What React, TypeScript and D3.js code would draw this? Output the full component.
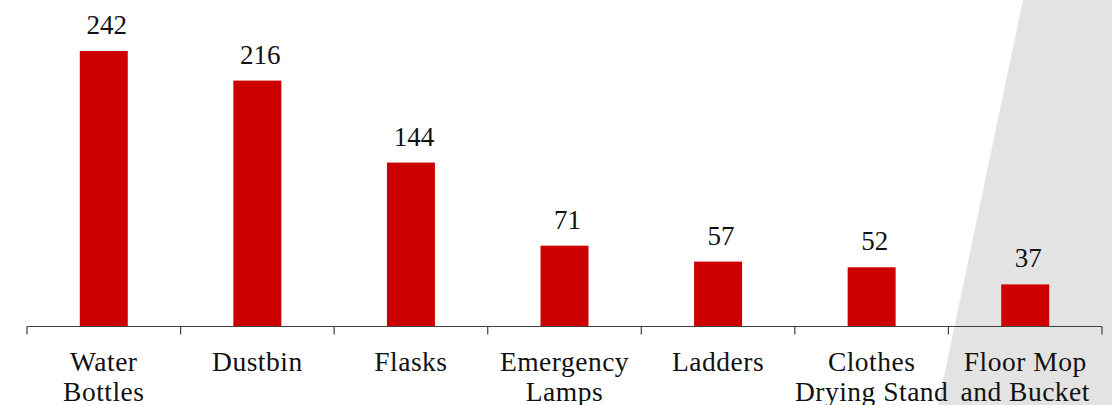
import React from "react";
import * as d3 from "d3";

const categories: string[][] = [
  ["Water", "Bottles"],
  ["Dustbin"],
  ["Flasks"],
  ["Emergency", "Lamps"],
  ["Ladders"],
  ["Clothes", "Drying Stand"],
  ["Floor Mop", "and Bucket"],
];
const values: number[] = [242, 216, 144, 71, 57, 52, 37];

const W = 1112;
const H = 405;
const FONT = "'Liberation Serif', 'Times New Roman', serif";

export default function App() {
  const keys = categories.map((c) => c.join(" "));
  const x = d3.scaleBand<string>().domain(keys).range([27, 1102]).padding(0);
  const y = d3.scaleLinear().domain([0, 280]).range([326.5, 7.75]);
  const barW = x.bandwidth() * 0.3125;
  const boundaries = keys.map((k) => x(k) as number).concat([x.range()[1]]);

  return (
    <svg
      width={W}
      height={H}
      style={{ position: "absolute", left: 0, top: 0, background: "#fff" }}
    >
      <polygon points={`1023,0 ${W},0 ${W},${H} 938,${H}`} fill="#e3e3e3" />
      {keys.map((k, i) => {
        const cx = (x(k) as number) + x.bandwidth() / 2;
        return (
          <g key={k}>
            <rect
              x={cx - barW / 2}
              y={y(values[i])}
              width={barW}
              height={y(0) - y(values[i])}
              fill="#cc0000"
            />
            <text
              x={cx + 3}
              y={y(values[i]) - 17}
              textAnchor="middle"
              fontFamily={FONT}
              fontSize={27}
              fill="#111"
            >
              {values[i]}
            </text>
            {categories[i].map((line, j) => (
              <text
                key={j}
                x={cx}
                y={370.5 + j * 30}
                textAnchor="middle"
                fontFamily={FONT}
                fontSize={27.5}
                letterSpacing={0.5}
                fill="#111"
              >
                {line}
              </text>
            ))}
          </g>
        );
      })}
      <line
        x1={x.range()[0]}
        x2={x.range()[1]}
        y1={y(0)}
        y2={y(0)}
        stroke="#404040"
        strokeWidth={1.2}
      />
      {boundaries.map((b, i) => (
        <line
          key={i}
          x1={b}
          x2={b}
          y1={y(0)}
          y2={y(0) + 8}
          stroke="#404040"
          strokeWidth={1.2}
        />
      ))}
    </svg>
  );
}
